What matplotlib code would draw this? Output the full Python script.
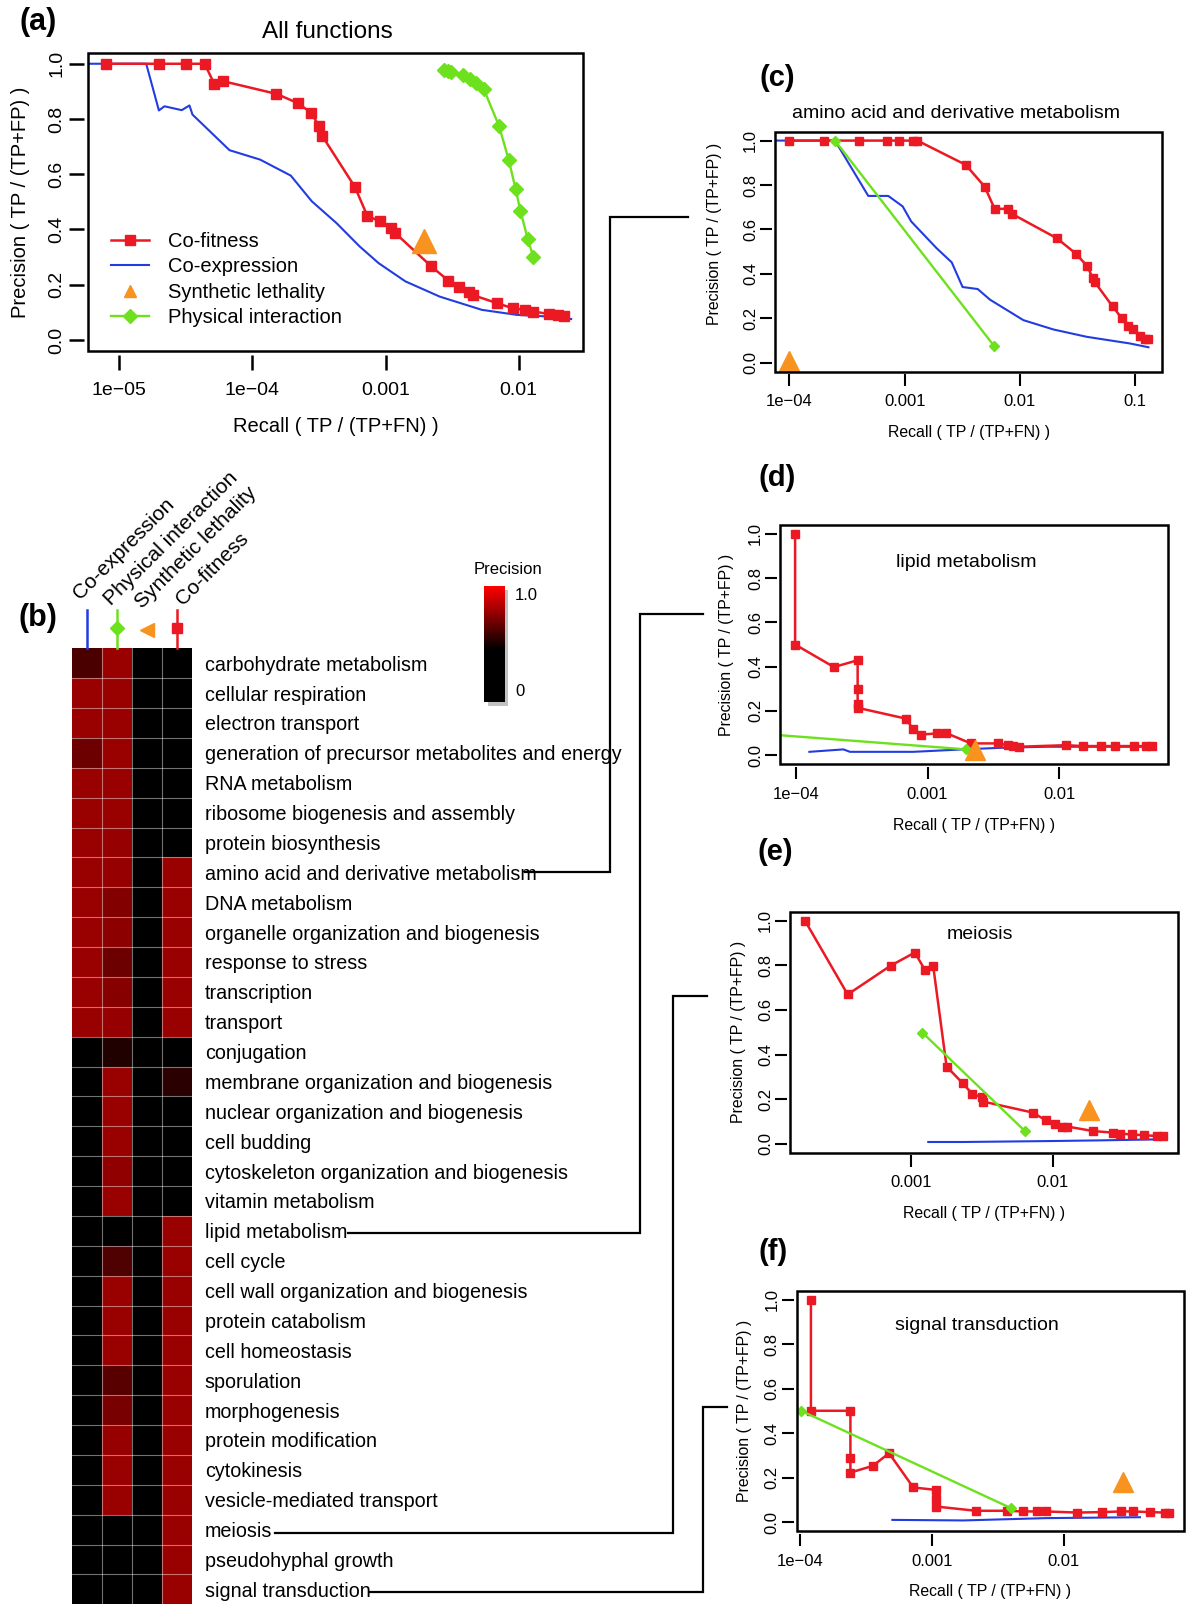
# -*- coding: utf-8 -*-
"""
Co-fitness vs. other gene-pair data sets: precision / recall for all functions,
per-function heatmap, and four selected functions.
"""
import numpy as np
import matplotlib
matplotlib.use("Agg")
import matplotlib.pyplot as plt
from matplotlib.colors import LinearSegmentedColormap
from matplotlib.lines import Line2D
from matplotlib.patches import Rectangle
from matplotlib.ticker import NullLocator

plt.rcParams["font.family"] = ["Liberation Sans", "DejaVu Sans"]

RED = "#eb1923"
BLUE = "#233ce1"
GREEN = "#6ee11e"
ORANGE = "#f7931e"

# ---------------- (a) all functions ----------------
A_COFIT_X = [7.9e-6, 1.98e-5, 3.18e-5, 4.37e-5, 5.16e-5, 6.0e-5, 1.51e-4, 2.18e-4, 2.77e-4,
             3.14e-4, 3.33e-4, 5.88e-4, 7.28e-4, 9.06e-4, 1.10e-3, 1.17e-3, 2.21e-3, 2.96e-3,
             3.56e-3, 4.2e-3, 4.5e-3, 6.9e-3, 9.0e-3, 1.11e-2, 1.29e-2, 1.69e-2, 1.99e-2, 2.2e-2]
A_COFIT_Y = [1.0, 1.0, 1.0, 1.0, 0.927, 0.937, 0.891, 0.858, 0.822, 0.776, 0.74, 0.554, 0.45,
             0.429, 0.405, 0.389, 0.266, 0.215, 0.191, 0.172, 0.163, 0.133, 0.115, 0.109, 0.103,
             0.094, 0.091, 0.088]
A_COEXP_X = [5.0e-6, 1.59e-5, 1.98e-5, 2.18e-5, 2.94e-5, 3.36e-5, 3.54e-5, 6.72e-5, 1.14e-4,
             1.94e-4, 2.79e-4, 4.28e-4, 6.37e-4, 8.87e-4, 1.41e-3, 2.55e-3, 5.29e-3, 9.62e-3,
             1.63e-2, 2.48e-2]
A_COEXP_Y = [1.0, 1.0, 0.831, 0.846, 0.832, 0.849, 0.816, 0.687, 0.653, 0.595, 0.502, 0.423,
             0.339, 0.278, 0.212, 0.157, 0.109, 0.091, 0.085, 0.076]
A_PHYS_X = [2.73e-3, 2.94e-3, 3.12e-3, 3.8e-3, 4.34e-3, 4.8e-3, 5.48e-3, 7.13e-3, 8.41e-3,
            9.48e-3, 1.03e-2, 1.17e-2, 1.29e-2]
A_PHYS_Y = [0.976, 0.973, 0.970, 0.958, 0.943, 0.929, 0.907, 0.774, 0.653, 0.547, 0.468,
            0.366, 0.30]
A_SYNTH = ([1.96e-3], [0.36])

# ---------------- (c) amino acid and derivative metabolism ----------------
C_COFIT_X = [1e-4, 2.0e-4, 4.02e-4, 6.98e-4, 8.93e-4, 1.19e-3, 1.29e-3, 3.38e-3, 4.94e-3,
             6.03e-3, 7.92e-3, 8.47e-3, 2.08e-2, 3.06e-2, 3.84e-2, 4.27e-2, 4.47e-2, 6.35e-2,
             7.6e-2, 8.69e-2, 9.48e-2, 0.1097, 0.121, 0.130]
C_COFIT_Y = [1, 1, 1, 1, 1, 1, 1, 0.891, 0.793, 0.693, 0.693, 0.671, 0.561, 0.491, 0.434,
             0.382, 0.362, 0.254, 0.202, 0.165, 0.15, 0.12, 0.108, 0.105]
C_COEXP_X = [7.76e-5, 2.49e-4, 4.84e-4, 7.21e-4, 9.61e-4, 1.14e-3, 1.89e-3, 2.56e-3, 3.18e-3,
             4.3e-3, 5.5e-3, 1.07e-2, 1.95e-2, 3.79e-2, 8.99e-2, 0.13]
C_COEXP_Y = [1, 1, 0.751, 0.751, 0.704, 0.636, 0.516, 0.452, 0.341, 0.332, 0.284, 0.192,
             0.15, 0.117, 0.087, 0.07]
C_PHYS_X = [2.49e-4, 5.98e-3]
C_PHYS_Y = [1.0, 0.075]
C_SYNTH = ([1e-4], [0.01])

# ---------------- (d) lipid metabolism ----------------
D_COFIT_X = [9.9e-5, 9.9e-5, 1.95e-4, 2.95e-4, 2.95e-4, 2.95e-4, 2.95e-4, 6.86e-4, 7.79e-4,
             8.85e-4, 1.17e-3, 1.37e-3, 2.13e-3, 3.43e-3, 4.08e-3, 4.45e-3, 4.95e-3, 1.12e-2,
             1.51e-2, 2.08e-2, 2.62e-2, 3.66e-2, 4.56e-2, 5.07e-2]
D_COFIT_Y = [1.0, 0.50, 0.398, 0.429, 0.298, 0.23, 0.214, 0.165, 0.116, 0.093, 0.098, 0.101,
             0.053, 0.053, 0.045, 0.042, 0.038, 0.045, 0.041, 0.041, 0.041, 0.041, 0.041, 0.041]
D_COEXP_X = [1.27e-4, 2.3e-4, 2.58e-4, 7.79e-4, 1.86e-3, 3.53e-3, 7.98e-3, 5.27e-2]
D_COEXP_Y = [0.015, 0.026, 0.015, 0.015, 0.026, 0.033, 0.038, 0.038]
D_PHYS_X = [4.6e-5, 1.97e-3]
D_PHYS_Y = [0.10, 0.026]
D_SYNTH = ([2.29e-3], [0.023])

# ---------------- (e) meiosis ----------------
E_COFIT_X = [1.8e-4, 3.6e-4, 7.22e-4, 1.07e-3, 1.26e-3, 1.44e-3, 1.79e-3, 2.32e-3, 2.72e-3,
             3.2e-3, 3.25e-3, 7.23e-3, 8.97e-3, 1.04e-2, 1.16e-2, 1.27e-2, 1.93e-2, 2.65e-2,
             2.98e-2, 3.64e-2, 4.4e-2, 5.46e-2, 6.01e-2]
E_COFIT_Y = [1.0, 0.669, 0.798, 0.857, 0.779, 0.798, 0.346, 0.272, 0.223, 0.208, 0.189, 0.14,
             0.105, 0.087, 0.077, 0.077, 0.057, 0.05, 0.045, 0.042, 0.038, 0.035, 0.035]
E_COEXP_X = [1.33e-3, 2.35e-3, 9.08e-3, 2.04e-2, 5.7e-2]
E_COEXP_Y = [0.008, 0.008, 0.012, 0.015, 0.02]
E_PHYS_X = [1.21e-3, 6.38e-3]
E_PHYS_Y = [0.498, 0.057]
E_SYNTH = ([1.81e-2], [0.15])

# ---------------- (f) signal transduction ----------------
F_COFIT_X = [1.21e-4, 1.21e-4, 2.41e-4, 2.41e-4, 2.41e-4, 3.56e-4, 4.73e-4, 7.22e-4, 1.07e-3,
             1.07e-3, 1.08e-3, 2.15e-3, 3.68e-3, 4.92e-3, 6.21e-3, 7.27e-3, 1.26e-2, 1.93e-2,
             2.73e-2, 3.35e-2, 4.48e-2, 5.82e-2, 6.28e-2]
F_COFIT_Y = [1.0, 0.501, 0.501, 0.288, 0.223, 0.253, 0.31, 0.156, 0.145, 0.103, 0.07, 0.051,
             0.051, 0.048, 0.048, 0.048, 0.043, 0.045, 0.048, 0.048, 0.045, 0.043, 0.043]
F_COEXP_X = [5.01e-4, 1.73e-3, 7.4e-3, 3.77e-2]
F_COEXP_Y = [0.01, 0.0075, 0.018, 0.022]
F_PHYS_X = [1.02e-4, 3.97e-3]
F_PHYS_Y = [0.501, 0.063]
F_SYNTH = ([2.81e-2], [0.18])

# ---------------- (b) heatmap ----------------
DATASETS = ["Co-expression", "Physical interaction", "Synthetic lethality", "Co-fitness"]
FUNCTIONS = [
    "carbohydrate metabolism", "cellular respiration", "electron transport",
    "generation of precursor metabolites and energy", "RNA metabolism",
    "ribosome biogenesis and assembly", "protein biosynthesis",
    "amino acid and derivative metabolism", "DNA metabolism",
    "organelle organization and biogenesis", "response to stress", "transcription",
    "transport", "conjugation", "membrane organization and biogenesis",
    "nuclear organization and biogenesis", "cell budding",
    "cytoskeleton organization and biogenesis", "vitamin metabolism", "lipid metabolism",
    "cell cycle", "cell wall organization and biogenesis", "protein catabolism",
    "cell homeostasis", "sporulation", "morphogenesis", "protein modification",
    "cytokinesis", "vesicle-mediated transport", "meiosis", "pseudohyphal growth",
    "signal transduction",
]
# columns: co-expression, physical interaction, synthetic lethality, co-fitness
HEAT = [
    [0.61, 0.78, 0, 0], [0.78, 0.78, 0, 0], [0.78, 0.78, 0, 0], [0.68, 0.78, 0, 0],
    [0.78, 0.78, 0, 0], [0.78, 0.78, 0, 0], [0.78, 0.77, 0, 0], [0.78, 0.77, 0, 0.78],
    [0.78, 0.73, 0, 0.78], [0.78, 0.75, 0, 0.78], [0.78, 0.68, 0, 0.78], [0.78, 0.74, 0, 0.78],
    [0.78, 0.77, 0, 0.78], [0, 0.52, 0, 0], [0, 0.78, 0, 0.54], [0, 0.78, 0, 0],
    [0, 0.78, 0, 0], [0, 0.76, 0, 0], [0, 0.78, 0, 0], [0, 0.05, 0, 0.78],
    [0, 0.62, 0, 0.78], [0, 0.78, 0, 0.78], [0, 0.78, 0, 0.78], [0, 0.78, 0, 0.78],
    [0, 0.64, 0, 0.78], [0, 0.71, 0, 0.78], [0, 0.77, 0, 0.78], [0, 0.78, 0, 0.78],
    [0, 0.78, 0, 0.78], [0, 0, 0, 0.78], [0, 0, 0, 0.78], [0, 0, 0, 0.78],
]
CMAP = LinearSegmentedColormap.from_list(
    "prec", [(0.0, "black"), (0.45, "black"), (1.0, "#ff0000")])

Y_TICKS = [0.0, 0.2, 0.4, 0.6, 0.8, 1.0]

W, H = 1200, 1614
fig = plt.figure(figsize=(W / 100, H / 100), dpi=100)


def rect_px(l, t, r, b):
    return [l / W, 1 - b / H, (r - l) / W, (b - t) / H]


def text_px(x, y, s, **kw):
    kw.setdefault("ha", "center")
    kw.setdefault("va", "center")
    return fig.text(x / W, 1 - y / H, s, **kw)


def line_px(xs, ys, lw=1.6):
    fig.add_artist(Line2D([x / W for x in xs], [1 - y / H for y in ys],
                          color="black", lw=lw, solid_joinstyle="miter"))


def pr_panel(rect, cofit, coexp, phys, synth, xlim, xticks, xlabels, big=False):
    ax = fig.add_axes(rect_px(*rect))
    ax.set_xscale("log")
    ms_sq = 7 if big else 6
    ms_d = 7 if big else 5.5
    ax.plot(coexp[0], coexp[1], color=BLUE, lw=1.5, zorder=2)
    ax.plot(cofit[0], cofit[1], color=RED, lw=1.8, marker="s", ms=ms_sq, zorder=3)
    ax.plot(phys[0], phys[1], color=GREEN, lw=1.7, marker="D", ms=ms_d, zorder=4)
    ax.plot(synth[0], synth[1], ls="none", marker="^", color=ORANGE,
            ms=17 if big else 15, zorder=5)
    ax.set_xlim(*xlim)
    ax.set_ylim(-0.04, 1.04)
    ax.set_xticks(xticks, xlabels)
    ax.xaxis.set_minor_locator(NullLocator())
    ax.set_yticks(Y_TICKS, [f"{v:.1f}" for v in Y_TICKS])
    for s in ax.spines.values():
        s.set_visible(False)
    gap = 2.9 if big else 2.0
    ax.spines["bottom"].set_position(("outward", gap))
    ax.spines["left"].set_position(("outward", gap))
    ax.add_patch(Rectangle((0, 0), 1, 1, transform=ax.transAxes, fill=False,
                           lw=1.8, clip_on=False, zorder=6))
    fs = 14 if big else 12
    ax.tick_params(direction="out", length=10.8 if big else 8.4,
                   width=1.8 if big else 1.5, labelsize=fs)
    ax.tick_params(axis="x", pad=8.5 if big else 6.0)
    ax.tick_params(axis="y", pad=2.7 if big else 1.8, labelrotation=90)
    for lab in ax.get_yticklabels():
        lab.set_va("center")
    return ax


# ---- (a) ----
ax_a = pr_panel((88, 52.7, 582.8, 351), (A_COFIT_X, A_COFIT_Y), (A_COEXP_X, A_COEXP_Y),
                (A_PHYS_X, A_PHYS_Y), A_SYNTH, (10 ** -5.236, 10 ** -1.518),
                [1e-5, 1e-4, 1e-3, 1e-2], ["1e\u221205", "1e\u221204", "0.001", "0.01"], big=True)
text_px(38.3, 21.7, "(a)", fontsize=22, fontweight="bold")
text_px(327.2, 31.7, "All functions", fontsize=17.5)
text_px(335.5, 426.7, "Recall ( TP / (TP+FN) )", fontsize=14.5)
text_px(21, 201.9, "Precision ( TP / (TP+FP) )", fontsize=14.5, rotation=90)
handles = [
    Line2D([], [], color=RED, lw=1.8, marker="s", ms=7),
    Line2D([], [], color=BLUE, lw=1.5),
    Line2D([], [], ls="none", marker="^", color=ORANGE, ms=9),
    Line2D([], [], color=GREEN, lw=1.7, marker="D", ms=7),
]
ax_a.legend(handles, ["Co-fitness", "Co-expression", "Synthetic lethality", "Physical interaction"],
            loc="upper left", bbox_to_anchor=(111 / W, 1 - 232 / H), bbox_transform=fig.transFigure,
            frameon=False, fontsize=14.5, borderpad=0, borderaxespad=0, handlelength=1.9,
            handletextpad=0.95, labelspacing=0.32)

# ---- (c) ----
pr_panel((775, 131.7, 1162.3, 371.7), (C_COFIT_X, C_COFIT_Y), (C_COEXP_X, C_COEXP_Y),
         (C_PHYS_X, C_PHYS_Y), C_SYNTH, (10 ** -4.124, 10 ** -0.766),
         [1e-4, 1e-3, 1e-2, 1e-1], ["1e\u221204", "0.001", "0.01", "0.1"])
text_px(777, 78, "(c)", fontsize=21, fontweight="bold")
text_px(956, 113, "amino acid and derivative metabolism", fontsize=14)
text_px(969, 433, "Recall ( TP / (TP+FN) )", fontsize=11.4)
text_px(715, 234, "Precision ( TP / (TP+FP) )", fontsize=11.4, rotation=90)

# ---- (d) ----
pr_panel((780, 525, 1167.7, 764), (D_COFIT_X, D_COFIT_Y), (D_COEXP_X, D_COEXP_Y),
         (D_PHYS_X, D_PHYS_Y), D_SYNTH, (10 ** -4.119, 10 ** -1.179),
         [1e-4, 1e-3, 1e-2], ["1e\u221204", "0.001", "0.01"])
text_px(776.7, 478, "(d)", fontsize=21, fontweight="bold")
text_px(966.7, 562.7, "lipid metabolism", fontsize=14)
text_px(974, 825, "Recall ( TP / (TP+FN) )", fontsize=11.4)
text_px(726.7, 644.5, "Precision ( TP / (TP+FP) )", fontsize=11.4, rotation=90)

# ---- (e) ----
pr_panel((790, 911.7, 1178.3, 1152.7), (E_COFIT_X, E_COFIT_Y), (E_COEXP_X, E_COEXP_Y),
         (E_PHYS_X, E_PHYS_Y), E_SYNTH, (10 ** -3.85, 10 ** -1.115),
         [1e-3, 1e-2], ["0.001", "0.01"])
text_px(775, 851.7, "(e)", fontsize=21, fontweight="bold")
text_px(980, 934.3, "meiosis", fontsize=14)
text_px(984, 1213.3, "Recall ( TP / (TP+FN) )", fontsize=11.4)
text_px(738.3, 1032, "Precision ( TP / (TP+FP) )", fontsize=11.4, rotation=90)

# ---- (f) ----
pr_panel((796.7, 1291, 1184, 1531), (F_COFIT_X, F_COFIT_Y), (F_COEXP_X, F_COEXP_Y),
         (F_PHYS_X, F_PHYS_Y), F_SYNTH, (10 ** -4.025, 10 ** -1.09),
         [1e-4, 1e-3, 1e-2], ["1e\u221204", "0.001", "0.01"])
text_px(773, 1251.7, "(f)", fontsize=21, fontweight="bold")
text_px(976.7, 1325.7, "signal transduction", fontsize=14)
text_px(990.3, 1591.7, "Recall ( TP / (TP+FN) )", fontsize=11.4)
text_px(745, 1411, "Precision ( TP / (TP+FP) )", fontsize=11.4, rotation=90)

# ---- (b) heatmap ----
hax = fig.add_axes(rect_px(72.3, 648.3, 191.5, 1604.3))
n_rows, n_cols = len(FUNCTIONS), len(DATASETS)
hax.pcolormesh(np.array(HEAT), cmap=CMAP, vmin=0, vmax=1)
hax.set_xlim(0, n_cols)
hax.set_ylim(n_rows, 0)
for i in range(1, n_cols):
    hax.axvline(i, color="white", alpha=0.45, lw=0.8)
for j in range(1, n_rows):
    hax.axhline(j, color="white", alpha=0.45, lw=0.8)
hax.set_yticks(np.arange(n_rows) + 0.5, FUNCTIONS)
hax.yaxis.tick_right()
hax.tick_params(axis="y", length=0, pad=9.5, labelsize=14.2)
hax.set_xticks([])
for s in hax.spines.values():
    s.set_visible(False)

# column symbols above heatmap
col_style = [
    dict(color=BLUE, line=True, marker=None),
    dict(color=GREEN, line=True, marker="D"),
    dict(color=ORANGE, line=False, marker="<"),
    dict(color=RED, line=True, marker="s"),
]
for i, st in enumerate(col_style):
    xc = i + 0.5
    if st["line"]:
        hax.plot([xc, xc], [-1.28, 0], color=st["color"], lw=1.8, clip_on=False)
    if st["marker"] == "D":
        hax.plot([xc], [-0.667], marker="D", ms=7, color=st["color"], clip_on=False)
    elif st["marker"] == "s":
        hax.plot([xc], [-0.667], marker="s", ms=7, color=st["color"], clip_on=False)
    elif st["marker"] == "<":
        hax.plot([xc], [-0.6], marker="<", ms=10, color=st["color"], clip_on=False)

header_pos = [(80, 600), (111, 606), (142, 609), (183, 606)]
for (hx, hy), name in zip(header_pos, DATASETS):
    text_px(hx, hy, name, fontsize=15, rotation=45, rotation_mode="anchor",
            ha="left", va="baseline")
text_px(38, 618.3, "(b)", fontsize=22, fontweight="bold")

# colour key with a soft drop shadow
fig.add_artist(Rectangle((488 / W, 1 - 706 / H), 20 / W, 116 / H,
                         transform=fig.transFigure, color="#9a9a9a", alpha=0.6, lw=0,
                         zorder=-1))
cax = fig.add_axes(rect_px(484.4, 586, 504.5, 701.7))
cax.imshow(np.linspace(1, 0, 200).reshape(-1, 1), cmap=CMAP, vmin=0, vmax=1,
           aspect="auto", interpolation="bilinear")
cax.axis("off")
text_px(508, 570, "Precision", fontsize=12)
text_px(515, 595, "1.0", fontsize=12, ha="left")
text_px(515, 692, "0", fontsize=12, ha="left")

# connectors from heatmap rows to detail panels
line_px([525, 610, 610, 688], [872.3, 872.3, 217, 217])
line_px([348, 640, 640, 703], [1233.3, 1233.3, 613.5, 613.5])
line_px([275, 673, 673, 707], [1532.7, 1532.7, 996, 996])
line_px([370, 703, 703, 727], [1592.3, 1592.3, 1406.7, 1406.7])

fig.savefig("out.png", dpi=100, facecolor="white")
